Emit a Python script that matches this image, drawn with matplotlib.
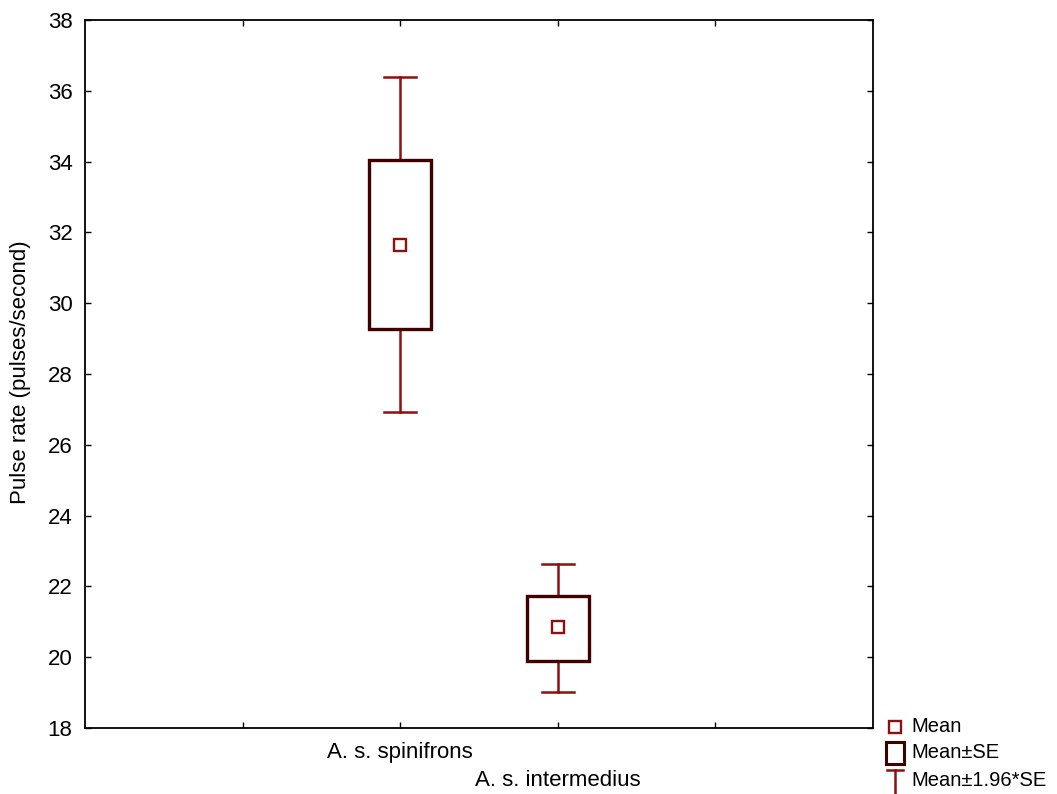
import matplotlib
matplotlib.use("Agg")
import matplotlib.pyplot as plt
from matplotlib.patches import Rectangle
from matplotlib.lines import Line2D

plt.rcParams['font.family'] = ['Liberation Sans', 'DejaVu Sans']

groups = ["A. s. spinifrons", "A. s. intermedius"]
means = [31.65, 20.85]
se_low = [29.27, 19.89]
se_high = [34.05, 21.73]
ci_low = [26.93, 19.01]
ci_high = [36.38, 22.64]
yticks = [18, 20, 22, 24, 26, 28, 30, 32, 34, 36, 38]

box_col = '#400000'
whisk_col = '#8b1010'
fs = 16

fig = plt.figure(figsize=(10.57, 7.94), dpi=100)
ax = fig.add_axes([0.0804, 0.0831, 0.7455, 0.8917])

xpos = [2, 3]
bw = 0.39
cw = 0.2
for i, x in enumerate(xpos):
    # whiskers
    ax.plot([x, x], [se_high[i], ci_high[i]], color=whisk_col, lw=1.8, zorder=2)
    ax.plot([x, x], [se_low[i], ci_low[i]], color=whisk_col, lw=1.8, zorder=2)
    ax.plot([x - cw / 2, x + cw / 2], [ci_high[i], ci_high[i]], color=whisk_col, lw=1.8, zorder=2)
    ax.plot([x - cw / 2, x + cw / 2], [ci_low[i], ci_low[i]], color=whisk_col, lw=1.8, zorder=2)
    # box
    ax.add_patch(Rectangle((x - bw / 2, se_low[i]), bw, se_high[i] - se_low[i],
                           facecolor='white', edgecolor=box_col, lw=2.4, zorder=3))
    # mean
    ax.plot([x], [means[i]], marker='s', ms=8, mfc='white', mec=whisk_col, mew=1.7, zorder=4)

ax.set_xlim(0, 5)
ax.set_ylim(18, 38)
ax.set_yticks(yticks)
ax.set_xticks([1, 2, 3, 4])
ax.set_xticklabels([])
ax.tick_params(direction='in', length=4, width=1, top=True, right=True, labelsize=fs, pad=9)
for s in ax.spines.values():
    s.set_linewidth(1.3)
ax.set_ylabel("Pulse rate (pulses/second)", fontsize=fs)
ax.yaxis.set_label_coords(-0.068, 0.502)

# staggered category labels
ax.text(xpos[0], -0.035, groups[0], transform=ax.get_xaxis_transform(),
        ha='center', va='center', fontsize=fs)
ax.text(xpos[1], -0.074, groups[1], transform=ax.get_xaxis_transform(),
        ha='center', va='center', fontsize=fs)

# legend
lx = 895 / 1057
tx = 911 / 1057
rows = [1 - 727 / 794, 1 - 753 / 794, 1 - 781 / 794]
fig.add_artist(Line2D([lx], [rows[0]], marker='s', ms=8, mfc='white', mec=whisk_col, mew=1.7,
                      transform=fig.transFigure))
fig.add_artist(Rectangle((lx - 9 / 1057, rows[1] - 11 / 794), 18 / 1057, 22 / 794,
                         facecolor='white', edgecolor=box_col, lw=2.2, transform=fig.transFigure))
fig.add_artist(Line2D([lx, lx], [rows[2] + 11 / 794, rows[2] - 13 / 794], color=whisk_col, lw=1.8,
                      transform=fig.transFigure))
fig.add_artist(Line2D([lx - 8 / 1057, lx + 8 / 1057], [rows[2] + 11 / 794, rows[2] + 11 / 794],
                      color=whisk_col, lw=1.8, transform=fig.transFigure))
for r, lab in zip(rows, ["Mean", "Mean\u00b1SE", "Mean\u00b11.96*SE"]):
    fig.text(tx, r, lab, ha='left', va='center', fontsize=14.5)

fig.savefig("out.png", dpi=100)
